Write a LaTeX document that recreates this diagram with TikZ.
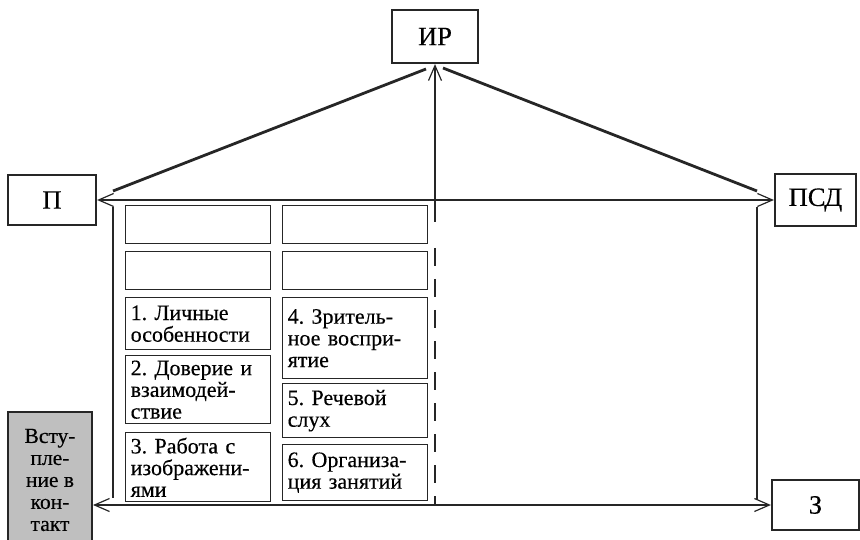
\documentclass[tikz,border=0pt]{standalone}
\usepackage{fontspec}
\setmainfont{Liberation Serif}[UprightFeatures={FakeBold=0.35}]
\usetikzlibrary{arrows.meta}
\begin{document}
\frenchspacing
\begin{tikzpicture}[x=1pt,y=-1pt,
  lab/.style={draw=black!85,line width=2.2pt,inner sep=0pt,minimum height=50pt,
    font=\fontsize{26.5}{28}\selectfont},
  ib/.style={draw=black!85,line width=1.4pt,anchor=north west,inner xsep=5pt,inner ysep=1pt,
    text width=135pt,align=left,font=\fontsize{22}{21.7}\selectfont},
  greybox/.style={draw=black!85,fill=black!25,line width=2pt,inner sep=0pt,
    minimum width=84pt,minimum height=136pt,align=center,font=\fontsize{21.5}{22}\selectfont},
  wall/.style={draw=black!85,line width=2.8pt},
  thinl/.style={draw=black!85,line width=1.2pt},
  tip/.tip={Straight Barb[length=15pt,width=13pt,line width=1.2pt]}
]
\useasboundingbox (0,0) rectangle (860,540);

% label boxes
\node[lab,minimum width=86pt,minimum height=53pt] (IR) at (435,36.5) {ИР};
\node[lab,minimum width=88pt] (P) at (52,200) {П};
\node[lab,minimum width=81pt,minimum height=52pt] (PSD) at (815.5,200) {ПСД};
\node[lab,minimum width=87pt] (Z) at (815.5,505) {З};
\node[greybox] (G) at (50,480) {Всту-\\пле-\\ние в\\кон-\\такт};

% inner boxes
\node[ib,minimum height=38pt] (e1) at (125,205) {};
\node[ib,minimum height=38pt] (e2) at (125,251) {};
\node[ib,minimum height=38pt] (e3) at (282,205) {};
\node[ib,minimum height=38pt] (e4) at (282,251) {};
\node[ib,minimum height=52pt] (b1) at (125,297) {1. Личные\\особенности};
\node[ib,minimum height=68pt] (b2) at (125,355) {2. Доверие и\\взаимодей-\\ствие};
\node[ib,minimum height=69pt] (b3) at (125,432) {3. Работа с\\изображени-\\ями};
\node[ib,minimum height=81pt] (b4) at (282,297) {4. Зритель-\\ное воспри-\\ятие};
\node[ib,minimum height=54pt] (b5) at (282,383) {5. Речевой\\слух};
\node[ib,minimum height=56pt] (b6) at (282,444) {6. Организа-\\ция занятий};

% roof and walls
\coordinate (rl1) at (113,191);
\coordinate (rl2) at (426,69);
\coordinate (rr1) at (443,68);
\coordinate (rr2) at (757,191);
\coordinate (wl1) at (113,207);
\coordinate (wl2) at (113,498);
\coordinate (wr1) at (757,207);
\coordinate (wr2) at (757,500);
\draw[wall] (rl1) -- (rl2);
\draw[wall] (rr1) -- (rr2);
\draw[wall] (wl1) -- (wl2);
\draw[wall] (wr1) -- (wr2);

% connectors
\draw[thinl,tip-tip] (P.east) -- (PSD.west);
\draw[thinl,tip-tip] (G.east |- Z.west) -- (Z.west);
\coordinate (cv) at (435,222);
\coordinate (dv1) at (435,248);
\coordinate (dv2) at (435,505);
\draw[thinl,-tip] (cv) -- (IR.south);
\draw[thinl,dash pattern=on 18pt off 13pt] (dv1) -- (dv2);
\end{tikzpicture}
\end{document}
